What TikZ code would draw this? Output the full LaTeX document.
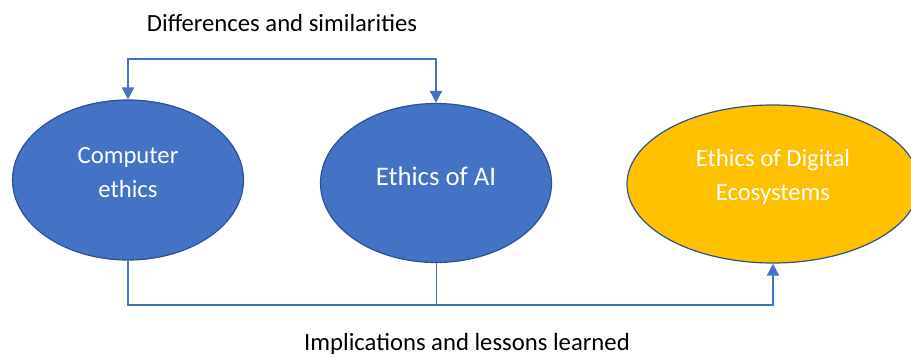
\documentclass[tikz,border=0pt]{standalone}
\usepackage{fontspec}
\setmainfont{Carlito}
\usetikzlibrary{shapes.geometric,arrows.meta}
\definecolor{accblue}{HTML}{4472C4}
\definecolor{accline}{HTML}{2F528F}
\definecolor{accgold}{HTML}{FFC000}
\begin{document}
\begin{tikzpicture}[x=1pt,y=-1pt,>={Triangle[width=12pt,length=12pt]},font=\fontsize{24.7}{34}\selectfont,
	blob/.style={ellipse,draw=accline,line width=1.2pt,fill=accblue,inner sep=0pt,minimum width=231pt,minimum height=160pt},
	intext/.style={text=white,align=center,yshift=7pt},
	conn/.style={draw=accblue,line width=1.8pt}]
	\useasboundingbox (0,0) rectangle (911,358);
	\node[blob,label={[intext]center:{Computer\\ethics}}] (ce) at (128,180) {};
	\node[blob,minimum height=159pt,label={[intext,font=\fontsize{26.8}{34}\selectfont]center:{Ethics of AI}}] (ai) at (436,183) {};
	\node[blob,fill=accgold,minimum width=292pt,minimum height=158pt,label={[intext]center:{Ethics of Digital\\Ecosystems}}] (de) at (773,184) {};
	\coordinate (top) at (282,59);
	\coordinate (bot) at (450,305);
	\draw[conn,<->] (ce.north) |- (top) -| (ai.north);
	\draw[conn,->] (ce.south) |- (bot) -| (de.south);
	\draw[draw=accblue,line width=0.8pt] (ai.south) -- (ai.south |- bot);
	\node[anchor=base] (diff) at (282,32) {Differences and similarities};
	\node[anchor=base] (impl) at (467,351) {Implications and lessons learned};
\end{tikzpicture}
\end{document}
